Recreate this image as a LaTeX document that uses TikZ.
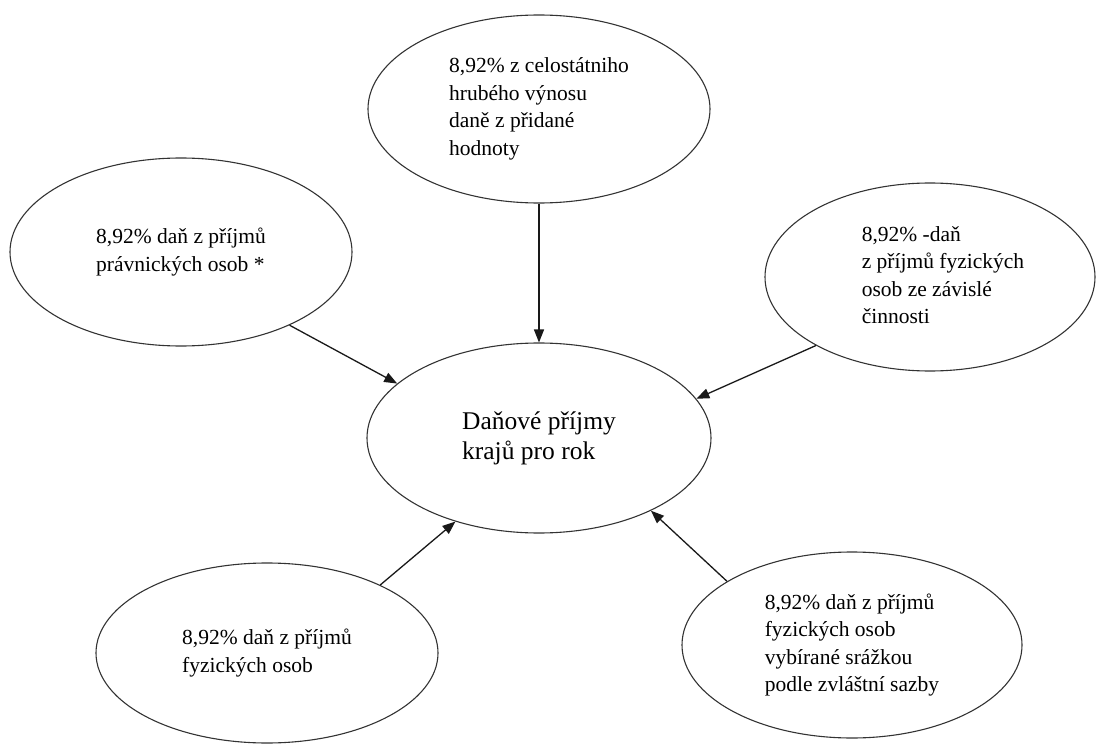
\documentclass[tikz,border=0pt]{standalone}
\usepackage{fontspec}
\setmainfont{Liberation Serif}
\newfontfamily\tnr{Liberation Serif}
\usetikzlibrary{shapes.geometric,arrows.meta}
\begin{document}
\begin{tikzpicture}[x=1pt,y=-1pt,
  bub/.style={ellipse,draw=black!80,line width=1.1pt,inner sep=0pt,
    minimum width=342pt,minimum height=188pt,align=left,
    font=\tnr\fontsize{21.5}{27.5}\selectfont},
  arr/.style={draw=black!90,line width=1.3pt,-{Triangle[length=13pt,width=10pt]}}]
\useasboundingbox (0,0) rectangle (1096,749);
\node[bub] (T) at (539,109) {8,92\% z celostátniho\\hrubého výnosu\\daně z přidané\\hodnoty};
\node[bub] (L) at (181,252) {8,92\% daň z příjmů\\právnických osob *};
\node[bub,minimum width=330pt,align=none] (R) at (930,277) {\hspace*{26pt}\begin{tabular}{@{}l@{}}8,92\% -daň\\z příjmů fyzických\\osob ze závislé\\činnosti\end{tabular}};
\node[bub,minimum width=344pt,minimum height=190pt,font=\tnr\fontsize{25.5}{30}\selectfont] (C) at (539,438) {Daňové příjmy\\krajů pro rok};
\node[bub,minimum height=180pt] (BL) at (267,653) {8,92\% daň z příjmů\\fyzických osob};
\node[bub,minimum width=340pt,minimum height=186pt] (BR) at (852,645) {8,92\% daň z příjmů\\fyzických osob\\vybírané srážkou\\podle zvláštní sazby};
\draw[arr] (T.south) -- (C.north);
\draw[arr] (L.-34.6) -- (C.159.9);
\draw[arr] (R.211.3) -- (C.14);
\draw[arr] (BL.31.7) -- (C.225.3);
\draw[arr] (BR.153.6) -- (C.-33.7);
\end{tikzpicture}
\end{document}
